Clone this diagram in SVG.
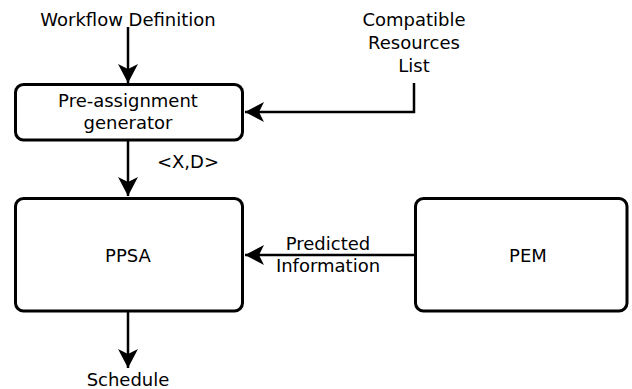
<svg xmlns="http://www.w3.org/2000/svg" width="632" height="389" viewBox="0 0 632 389">
<style>
.box{fill:#fff;stroke:#000;stroke-width:3}
.ln{fill:none;stroke:#000;stroke-width:2.5}
text{font-family:"DejaVu Sans",sans-serif;font-size:18px;fill:#000;text-anchor:middle}
</style>
<defs>
<marker id="ah" markerUnits="userSpaceOnUse" markerWidth="24" markerHeight="24" viewBox="-20 -12 24 24" refX="0" refY="0" orient="auto">
<path d="M0,0 L-19,-10 L-14,0 L-19,10 Z" fill="#000"/>
</marker>
</defs>
<rect width="632" height="389" fill="#fff"/>
<g id="connectors">
<line class="ln" x1="128" y1="27" x2="128" y2="83" marker-end="url(#ah)"/>
<polyline class="ln" points="414,83 414,112 245,112" marker-end="url(#ah)"/>
<line class="ln" x1="128" y1="141" x2="128" y2="196" marker-end="url(#ah)"/>
<line class="ln" x1="414" y1="255" x2="245" y2="255" marker-end="url(#ah)"/>
<line class="ln" x1="128" y1="312" x2="128" y2="368" marker-end="url(#ah)"/>
</g>
<g id="labels">
<text x="128" y="26">Workflow Definition</text>
<text x="414" y="26">Compatible</text>
<text x="414" y="49">Resources</text>
<text x="414" y="72">List</text>
<text x="188" y="168">&lt;X,D&gt;</text>
<text x="328" y="250">Predicted</text>
<text x="328" y="272">Information</text>
<text x="128" y="386">Schedule</text>
</g>
<g id="preassign">
<rect class="box" x="15.5" y="84.5" width="227" height="55.5" rx="8"/>
<text x="128" y="107">Pre-assignment</text>
<text x="128" y="129">generator</text>
</g>
<g id="ppsa">
<rect class="box" x="15.5" y="198.5" width="227" height="112.5" rx="8"/>
<text x="128" y="262">PPSA</text>
</g>
<g id="pem">
<rect class="box" x="415.5" y="198.5" width="211.5" height="112.5" rx="8"/>
<text x="528" y="262">PEM</text>
</g>
</svg>
